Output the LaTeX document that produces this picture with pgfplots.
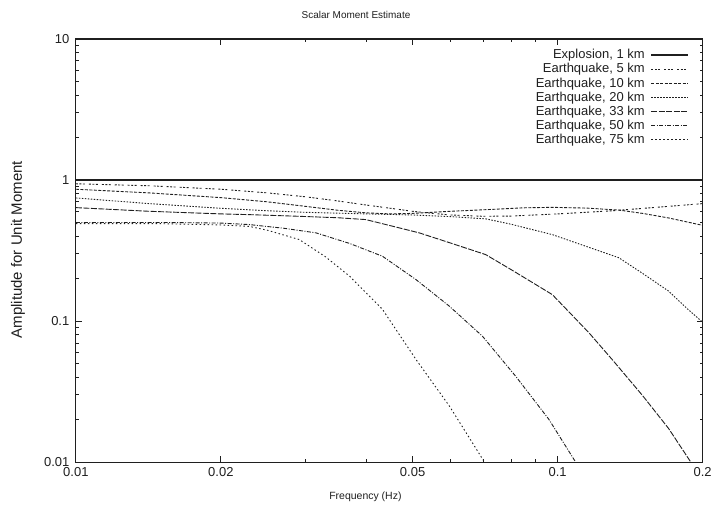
\documentclass[border=0pt]{standalone}
\usepackage{fontspec}
\setmainfont{Liberation Sans}
\usepackage{pgfplots}
\pgfplotsset{compat=1.18}
\definecolor{ink}{gray}{0.12}
\begin{document}
\begin{tikzpicture}
\begin{axis}[
  scale only axis, width=628pt, height=424pt,
  xmode=log, ymode=log,
  xmin=0.01, xmax=0.2, ymin=0.01, ymax=10,
  xtick={0.01,0.02,0.05,0.1,0.2},
  xticklabels={0.01,0.02,0.05,0.1,0.2},
  minor xtick={0.03,0.04,0.06,0.07,0.08,0.09},
  ytick={0.01,0.1,1,10},
  yticklabels={0.01,0.1,1,10},
  minor ytick={0.02,0.03,0.04,0.05,0.06,0.07,0.08,0.09,0.2,0.3,0.4,0.5,0.6,0.7,0.8,0.9,2,3,4,5,6,7,8,9},
  tick align=inside,
  major tick length=6pt, minor tick length=3pt,
  axis line style={ink, line width=1.2pt},
  every tick/.style={ink, line width=0.8pt},
  /pgf/number format/assume math mode=true,
  ticklabel style={font=\fontsize{13}{14}\selectfont, text=ink},
  xticklabel style={yshift=-2pt},
  yticklabel style={xshift=-3pt},
  every axis title shift=0pt,
  title={Scalar Moment Estimate},
  title style={at={(axis description cs:0.447,1.0566)}, anchor=center, font=\fontsize{10}{11}\selectfont, text=ink},
  xlabel={Frequency (Hz)},
  xlabel style={at={(axis description cs:0.462,-0.0825)}, anchor=center, font=\fontsize{10.5}{11}\selectfont, text=ink},
  ylabel={Amplitude for Unit Moment},
  ylabel style={at={(axis description cs:-0.0924,0.502)}, anchor=center, font=\fontsize{15}{16}\selectfont, text=ink},
  legend style={draw=none, fill=none, at={(axis description cs:0.983,0.985)}, anchor=north east,
    font=\fontsize{13}{14}\selectfont, text=ink, row sep=-0.8pt},
  legend cell align=right, legend plot pos=right,
  legend image code/.code={\path (0pt,0pt); \draw[#1] (4pt,0pt) -- (41pt,0pt);},
  every axis plot/.append style={ink, line width=0.9pt},
]
\addplot[line width=1.2pt] coordinates {(0.01,1) (0.2,1)};
\addlegendentry{Explosion, 1 km}
\addplot[dash pattern=on 2pt off 1.5pt on 2pt off 1.5pt on 2pt off 4pt] coordinates {
(0.01,0.94) (0.0142,0.91) (0.02,0.86) (0.025,0.81) (0.03,0.76) (0.035,0.71) (0.04,0.665) (0.045,0.63) (0.05,0.60) (0.055,0.58) (0.06,0.565) (0.07,0.553) (0.08,0.555) (0.1,0.575) (0.13,0.605) (0.16,0.64) (0.2,0.68)};
\addlegendentry{Earthquake, 5 km}
\addplot[dash pattern=on 3pt off 1.5pt] coordinates {
(0.01,0.86) (0.0142,0.81) (0.02,0.75) (0.025,0.70) (0.03,0.65) (0.035,0.61) (0.04,0.585) (0.045,0.575) (0.05,0.58) (0.06,0.60) (0.071,0.616) (0.085,0.635) (0.0975,0.64) (0.115,0.632) (0.134,0.612) (0.15,0.58) (0.17,0.538) (0.2,0.477)};
\addlegendentry{Earthquake, 10 km}
\addplot[dash pattern=on 1.5pt off 1.5pt] coordinates {
(0.01,0.746) (0.0142,0.68) (0.02,0.63) (0.025,0.605) (0.03,0.59) (0.04,0.575) (0.05,0.565) (0.06,0.55) (0.071,0.53) (0.08,0.486) (0.0975,0.41) (0.115,0.337) (0.134,0.281) (0.15,0.218) (0.17,0.163) (0.185,0.124) (0.2,0.098)};
\addlegendentry{Earthquake, 20 km}
\addplot[dash pattern=on 6pt off 1.5pt] coordinates {
(0.01,0.637) (0.0142,0.60) (0.02,0.575) (0.0229,0.568) (0.029,0.553) (0.035,0.54) (0.04,0.524) (0.045,0.474) (0.0516,0.422) (0.06,0.357) (0.0709,0.296) (0.08,0.232) (0.0975,0.154) (0.116,0.083) (0.13,0.053) (0.15,0.0297) (0.17,0.0173) (0.189,0.01)};
\addlegendentry{Earthquake, 33 km}
\addplot[dash pattern=on 4pt off 1.5pt on 1pt off 1.5pt] coordinates {
(0.01,0.50) (0.015,0.50) (0.02,0.495) (0.0229,0.483) (0.027,0.455) (0.0315,0.422) (0.037,0.355) (0.0433,0.288) (0.0508,0.197) (0.0596,0.1275) (0.0698,0.0782) (0.0818,0.0407) (0.0959,0.0201) (0.109,0.01)};
\addlegendentry{Earthquake, 50 km}
\addplot[dash pattern=on 1.5pt off 2.5pt] coordinates {
(0.01,0.49) (0.015,0.49) (0.02,0.48) (0.0229,0.469) (0.025,0.44) (0.0291,0.378) (0.033,0.285) (0.037,0.208) (0.0433,0.121) (0.0508,0.0535) (0.0596,0.025) (0.065,0.0156) (0.0705,0.01)};
\addlegendentry{Earthquake, 75 km}
\end{axis}
\path[use as bounding box] (-76pt,-45pt) rectangle (639pt,463pt);
\end{tikzpicture}
\end{document}
